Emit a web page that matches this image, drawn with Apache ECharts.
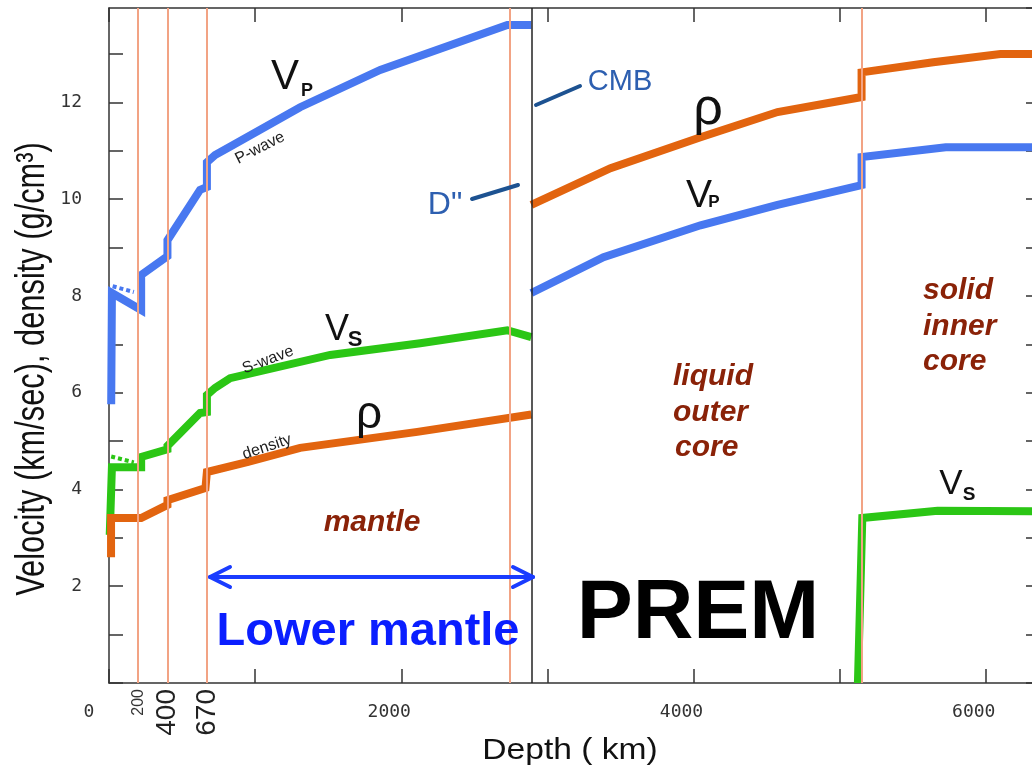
<!DOCTYPE html>
<html>
<head>
<meta charset="utf-8">
<title>PREM</title>
<script src="https://cdn.jsdelivr.net/npm/echarts@6/dist/echarts.min.js"></script>
<style>
  html, body { margin: 0; padding: 0; background: #fff; }
  #chart { width: 1032px; height: 771px; }
</style>
</head>
<body>
<div id="chart"></div>
<script>
// [depth km, value]
var vpMantle = [[15, 5.76], [20, 8.06], [220, 7.71], [220, 8.43], [400, 8.82], [400, 9.15], [623, 10.19], [670, 10.25], [670, 10.76], [726, 10.91], [849, 11.12], [1308, 11.9], [1856, 12.67], [2726, 13.6], [2890, 13.6]];
var vpCore = [[2890, 8.06], [3384, 8.8], [4048, 9.46], [4575, 9.88], [5150, 10.29], [5150, 10.87], [5726, 11.07], [6371, 11.07]];
var vsMantle = [[5, 3.06], [20, 4.46], [220, 4.46], [220, 4.67], [400, 4.83], [400, 4.9], [623, 5.58], [670, 5.6], [670, 5.95], [726, 6.1], [829, 6.3], [1514, 6.78], [2130, 7.02], [2726, 7.29], [2890, 7.15]];
var vsInner = [[5125, 0], [5155, 3.41], [5670, 3.56], [6371, 3.55]];
var rhoMantle = [[14, 2.6], [14, 3.41], [220, 3.41], [400, 3.68], [400, 3.78], [660, 4.03], [670, 4.05], [670, 4.36], [952, 4.57], [1308, 4.86], [2110, 5.19], [2890, 5.55]];
var rhoCore = [[2890, 9.88], [3432, 10.64], [4048, 11.28], [4575, 11.8], [5150, 12.11], [5150, 12.62], [5640, 12.83], [6100, 13.0], [6371, 13.0]];
// isotropic low-velocity-zone remnants (dotted)
var vpIso = [[25, 8.2], [170, 8.08]];
var vsIso = [[15, 4.68], [170, 4.56]];

var boundaries = [200, 400, 670, 2741, 5150];
var cmbDepth = 2890;
var depthMarks = [200, 400, 670];

var BLUE = '#4878f0', GREEN = '#2bc615', ORANGE = '#e2640f';
var SALMON = '#f2a384', DARKRED = '#8a2208';
var SANS = '"Liberation Sans", Arial, sans-serif';
var MONO = '"DejaVu Sans Mono", monospace';

function curve(name, data, color, width, dash) {
  return {
    name: name, type: 'line', data: data, symbol: 'none', z: 3,
    lineStyle: { color: color, width: width, type: dash || 'solid', join: 'miter' }
  };
}

function txt(str, x, y, font, color, extra) {
  var el = {
    type: 'text', x: x, y: y, z: 100, silent: true,
    style: { text: str, font: font, fill: color, textAlign: 'center', textVerticalAlign: 'middle' }
  };
  if (extra) {
    for (var k in extra) {
      if (k === 'align') el.style.textAlign = extra[k];
      else el[k] = extra[k];
    }
  }
  return el;
}

function seg(x1, y1, x2, y2, color, w) {
  return { type: 'line', z: 100, silent: true, shape: { x1: x1, y1: y1, x2: x2, y2: y2 },
    style: { stroke: color, lineWidth: w, lineCap: 'round' } };
}

function arrow(x1, x2, y, color) {
  return [
    seg(x1, y, x2, y, color, 4),
    { type: 'polyline', z: 100, silent: true, shape: { points: [[x1 + 20, y - 10], [x1, y], [x1 + 20, y + 10]] },
      style: { stroke: color, lineWidth: 4, fill: null, lineCap: 'round', lineJoin: 'round' } },
    { type: 'polyline', z: 100, silent: true, shape: { points: [[x2 - 20, y - 10], [x2, y], [x2 - 20, y + 10]] },
      style: { stroke: color, lineWidth: 4, fill: null, lineCap: 'round', lineJoin: 'round' } }
  ];
}

function axisLine() {
  return { show: true, onZero: false, lineStyle: { color: '#333', width: 1.5 } };
}
function ticks() {
  return { show: true, inside: true, length: 14, lineStyle: { color: '#333', width: 1.5 } };
}

var chart = echarts.init(document.getElementById('chart'));
var option = {
  animation: false,
  backgroundColor: '#fff',
  grid: { left: 109, right: -8, top: 8, bottom: 88, containLabel: false, outerBoundsMode: 'none' },
  xAxis: [{
    type: 'value', position: 'bottom', min: 0, max: 6371, interval: 1000,
    axisLine: axisLine(),
    axisTick: ticks(),
    splitLine: { show: false },
    axisLabel: {
      margin: 20, showMaxLabel: false, color: '#333', fontFamily: MONO, fontSize: 18,
      formatter: function (v) {
        if (v === 0) return '{z|0}';
        return v % 2000 === 0 ? '{a|' + v + '}' : '';
      },
      rich: {
        a: { fontFamily: MONO, fontSize: 18, color: '#333', padding: [0, 24, 0, 0] },
        z: { fontFamily: MONO, fontSize: 18, color: '#333', padding: [0, 40, 0, 0] }
      }
    }
  }, {
    type: 'value', position: 'top', min: 0, max: 6371, interval: 1000,
    axisLine: axisLine(),
    axisTick: ticks(),
    splitLine: { show: false },
    axisLabel: { show: false }
  }, {
    type: 'value', position: 'bottom', min: 0, max: 6371,
    axisLine: { show: false }, axisTick: { show: false }, splitLine: { show: false },
    axisLabel: {
      customValues: depthMarks, rotate: 90, margin: 6,
      formatter: function (v) { return v === 200 ? '{s|200}' : '{b|' + v + '}'; },
      rich: {
        s: { fontFamily: SANS, fontSize: 16, color: '#333' },
        b: { fontFamily: SANS, fontSize: 28, color: '#222' }
      }
    }
  }],
  yAxis: [{
    type: 'value', position: 'left', min: 0, max: 13.95, interval: 1,
    axisLine: axisLine(),
    axisTick: ticks(),
    splitLine: { show: false },
    axisLabel: {
      margin: 27, color: '#333', fontFamily: MONO, fontSize: 18, showMaxLabel: false,
      formatter: function (v) { return v > 0 && v % 2 === 0 ? String(v) : ''; }
    }
  }, {
    type: 'value', position: 'right', min: 0, max: 13.95, interval: 1,
    axisLine: axisLine(),
    axisTick: ticks(),
    splitLine: { show: false },
    axisLabel: { show: false }
  }],
  series: [
    {
      name: 'boundaries', type: 'line', data: [], z: 1, silent: true,
      markLine: {
        symbol: 'none', silent: true, label: { show: false },
        lineStyle: { color: SALMON, width: 2, type: 'solid' },
        data: boundaries.map(function (d) { return { xAxis: d }; }).concat([
          { xAxis: cmbDepth, lineStyle: { color: '#222', width: 1.5, type: 'solid' } }
        ])
      }
    },
    curve('Vp mantle', vpMantle, BLUE, 8),
    curve('Vp core', vpCore, BLUE, 8),
    curve('Vs mantle', vsMantle, GREEN, 8),
    curve('Vs inner core', vsInner, GREEN, 8),
    curve('rho mantle', rhoMantle, ORANGE, 8),
    curve('rho core', rhoCore, ORANGE, 8),
    curve('Vp iso', vpIso, BLUE, 4, [4, 3]),
    curve('Vs iso', vsIso, GREEN, 4, [4, 3])
  ],
  graphic: [
    // axis titles
    txt('Velocity (km/sec), density (g/cm³)', 33, 369, '40px ' + SANS, '#111', { rotation: Math.PI / 2, scaleX: 0.77 }),
    txt('Depth ( km)', 570, 751, '30px ' + SANS, '#111', { scaleX: 1.12 }),

    // curve labels
    txt('V', 285, 77, '42px ' + SANS, '#111'),
    txt('P', 307, 91, 'bold 18px ' + SANS, '#111'),
    txt('P-wave', 260, 148, '16px ' + SANS, '#222', { rotation: 0.47 }),
    txt('V', 337, 330, '36px ' + SANS, '#111'),
    txt('S', 355, 340, 'bold 22px ' + SANS, '#111'),
    txt('S-wave', 268, 360, '16px ' + SANS, '#222', { rotation: 0.36 }),
    txt('ρ', 369, 415, '46px ' + SANS, '#111'),
    txt('density', 267, 447, '16px ' + SANS, '#222', { rotation: 0.32 }),
    txt('ρ', 708, 110, '52px ' + SANS, '#111'),
    txt('V', 699, 196, '39px ' + SANS, '#111'),
    txt('P', 714, 202, 'bold 17px ' + SANS, '#111'),
    txt('V', 951, 484, '35px ' + SANS, '#111'),
    txt('S', 969, 495, 'bold 19px ' + SANS, '#111'),

    // CMB / D'' callouts
    txt('CMB', 620, 82, '29px ' + SANS, '#2d5fb0'),
    seg(536, 105, 580, 86, '#1d5291', 4),
    txt('D"', 445, 205, '32px ' + SANS, '#2d5fb0'),
    seg(472, 199, 518, 185, '#1d5291', 4),

    // region names
    txt('mantle', 372, 523, 'italic bold 30px ' + SANS, DARKRED),
    txt('liquid', 673, 377, 'italic bold 30px ' + SANS, DARKRED, { align: 'left' }),
    txt('outer', 673, 413, 'italic bold 30px ' + SANS, DARKRED, { align: 'left' }),
    txt('core', 675, 448, 'italic bold 30px ' + SANS, DARKRED, { align: 'left' }),
    txt('solid', 923, 291, 'italic bold 30px ' + SANS, DARKRED, { align: 'left' }),
    txt('inner', 923, 327, 'italic bold 30px ' + SANS, DARKRED, { align: 'left' }),
    txt('core', 923, 362, 'italic bold 30px ' + SANS, DARKRED, { align: 'left' }),

    txt('PREM', 698, 615, 'bold 84px ' + SANS, '#000'),
    txt('Lower mantle', 368, 632, 'bold 47px ' + SANS, '#0a1eff')
  ].concat(arrow(210, 533, 577, '#1a3cff'))
};
chart.setOption(option);
</script>
</body>
</html>
